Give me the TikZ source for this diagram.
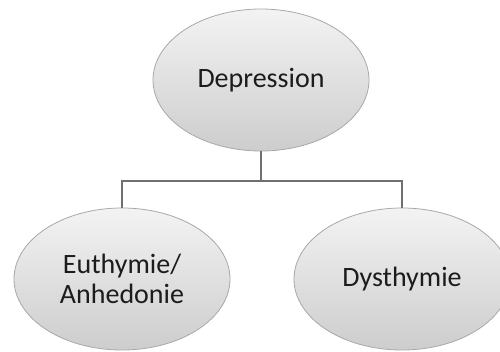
\documentclass[tikz,border=0pt]{standalone}
\usepackage{fontspec}
\setmainfont{Carlito}
\usetikzlibrary{shapes.geometric}
\definecolor{rimgray}{HTML}{A8A8A8}
\definecolor{linegray}{HTML}{707070}
\definecolor{fillhi}{HTML}{F3F3F3}
\definecolor{filllo}{HTML}{CDCDCD}
\definecolor{inkdark}{HTML}{1C1C1C}
\tikzset{
  bubble/.style={ellipse, draw=rimgray, line width=0.8bp,
    top color=fillhi, bottom color=filllo,
    minimum width=216bp, minimum height=142bp, inner sep=0pt,
    align=center, text=inkdark,
    font=\fontsize{28bp}{30bp}\selectfont},
  link/.style={draw=linegray, line width=1.5bp}
}
\begin{document}
\begin{tikzpicture}[x=1bp,y=1bp]
  \useasboundingbox (0,0) rectangle (500,351);
  \clip (0,0) rectangle (500,351);
  \node[bubble] (dep) at (261,271) {Depression};
  \node[bubble] (eut) at (122,72) {Euthymie/\\Anhedonie};
  \node[bubble] (dys) at (402,72) {Dysthymie};
  \coordinate (bus) at (261,170);
  \draw[link] (dep.south) -- (bus) -| (eut.north);
  \draw[link] (bus) -| (dys.north);
\end{tikzpicture}
\end{document}
